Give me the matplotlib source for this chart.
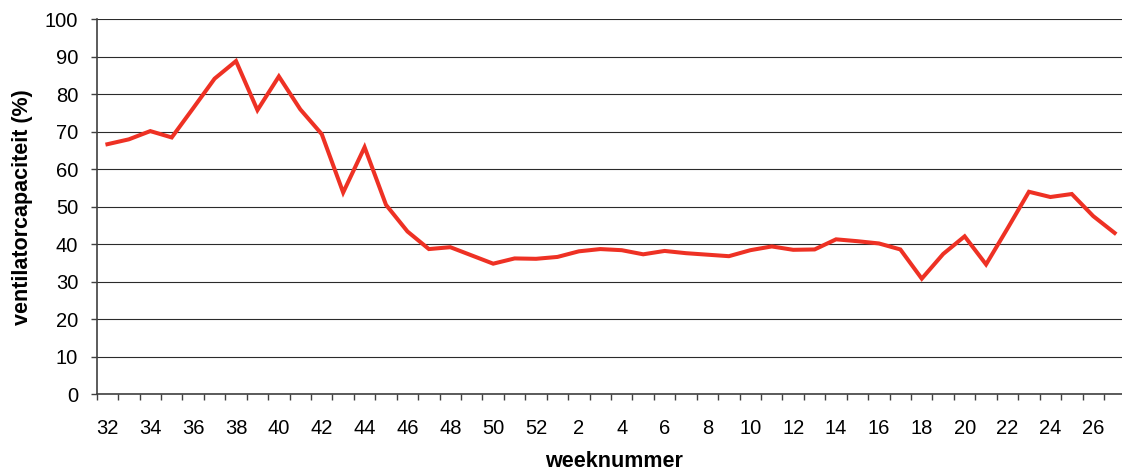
import numpy as np
import matplotlib
matplotlib.use("Agg")
import matplotlib.pyplot as plt
from matplotlib.ticker import FixedLocator

# week numbers: 32..52 of the first year, then 1..27
weeks = list(range(32, 53)) + list(range(1, 28))

# ventilator capacity (%) per week
capacity = [66.7, 68.0, 70.2, 68.5, 76.3, 84.2, 88.9, 75.8, 84.8, 76.0,
            69.4, 53.8, 65.9, 50.5, 43.4, 38.7, 39.2, 37.0, 34.8, 36.2,
            36.1, 36.6, 38.1, 38.7, 38.4, 37.3, 38.2, 37.6, 37.2, 36.8,
            38.4, 39.4, 38.5, 38.6, 41.3, 40.8, 40.2, 38.6, 30.8, 37.4,
            42.1, 34.6, 44.2, 54.0, 52.6, 53.4, 47.5, 43.0]

y_ticks = list(range(0, 101, 10))

FONT = "Liberation Sans"


def main():
    plt.rcParams['font.family'] = [FONT, 'DejaVu Sans']

    fig = plt.figure(figsize=(11.22, 4.73), dpi=100)
    # axis runs slightly past the right edge, like the original
    ax = fig.add_axes([0.0862, 0.167, 0.9168, 0.7918])

    x = np.arange(len(weeks))
    ax.plot(x, capacity, color='#EE3124', lw=2.9, solid_joinstyle='miter', zorder=3)

    ax.set_xlim(-0.5, len(weeks) - 0.5)
    ax.set_ylim(0, 100)

    # horizontal gridlines
    ax.set_yticks(y_ticks)
    ax.yaxis.grid(True, color='#2b2b2b', lw=0.8)
    ax.set_axisbelow(True)

    # labels on even weeks, ticks between every category
    label_pos = [i for i, w in enumerate(weeks) if w % 2 == 0]
    ax.set_xticks(label_pos)
    ax.set_xticklabels([str(weeks[i]) for i in label_pos])
    ax.xaxis.set_minor_locator(FixedLocator(np.arange(-0.5, len(weeks), 1.0)))

    ax.tick_params(axis='x', which='major', length=0, pad=18, labelsize=14.5)
    ax.tick_params(axis='x', which='minor', length=4, width=1, color='#404040', direction='out')
    ax.tick_params(axis='y', which='major', length=4.3, width=1, color='#404040', pad=9,
                   labelsize=14.5)

    for side in ['top', 'right']:
        ax.spines[side].set_visible(False)
    for side in ['left', 'bottom']:
        ax.spines[side].set_color('#404040')
        ax.spines[side].set_linewidth(1.2)

    fig.text(23 / 1122, 0.563, "ventilatorcapaciteit (%)", rotation=90,
             ha='center', va='center', fontsize=15.5, fontweight='bold')
    fig.text(614 / 1122, 1 - 461 / 473, "weeknummer",
             ha='center', va='center', fontsize=15.5, fontweight='bold')

    fig.savefig("out.png", dpi=100)


if __name__ == "__main__":
    main()
